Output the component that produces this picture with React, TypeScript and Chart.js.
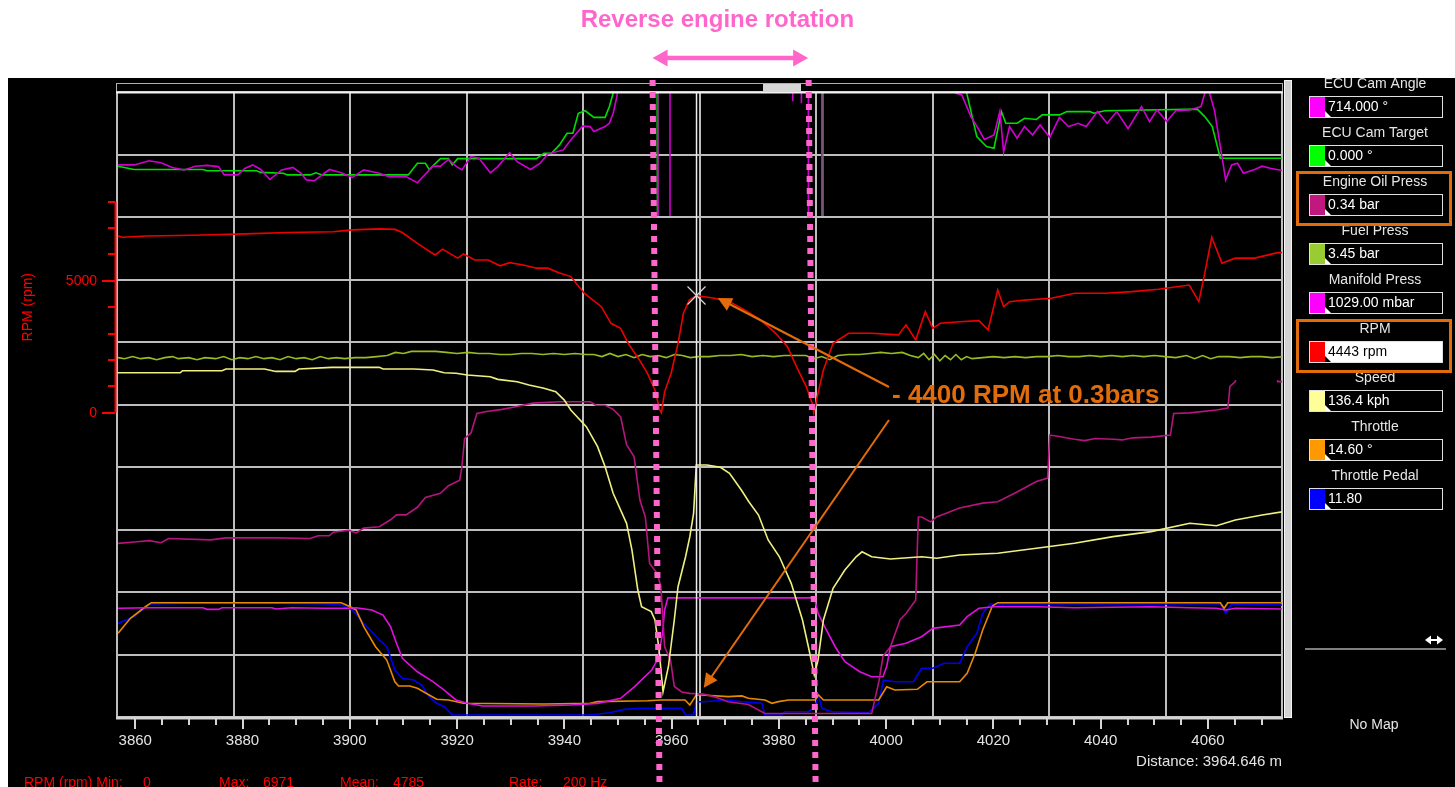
import React, { useEffect, useRef } from 'react';
import { Chart, registerables } from 'chart.js';

Chart.register(...registerables);

const FONT = "'Liberation Sans', Arial, sans-serif";

// ---------- axis ranges ----------
const X_MIN = 3856.6;
const X_MAX = 4073.8;
const xLabelValues = [3860, 3880, 3900, 3920, 3940, 3960, 3980, 4000, 4020, 4040, 4060];
const rpmTickValues = [0, 1000, 2000, 3000, 4000, 5000, 6000, 7000, 8000];
const rpmLabelValues = [0, 5000];

// ---------- cursor / annotations ----------
const cursorDistance = 3964.646;
const cursorRpm = 4443;
const reverseStart = 3957.1;
const reverseEnd = 3986.2;

// ---------- legend ----------
const legendNames = ['ECU Cam Angle', 'ECU Cam Target', 'Engine Oil Press', 'Fuel Press', 'Manifold Press', 'RPM', 'Speed', 'Throttle', 'Throttle Pedal'];
const legendValues = ['714.000 °', '0.000 °', '0.34 bar', '3.45 bar', '1029.00 mbar', '4443 rpm', '136.4 kph', '14.60 °', '11.80'];
const legendSwatches = ['#ff00ff', '#00ff00', '#c0187f', '#99cc33', '#ff00ff', '#ff0000', '#ffff99', '#ff9900', '#0000ff'];
const lineColors = ['#d000d0', '#00dd00', '#b5157d', '#99bb22', '#e010e0', '#ee0000', '#f0f080', '#e88a00', '#0000f0'];

// ---------- series: [distance m, value] ----------
const camAngle: [number, number][] = [
  [3856.8, 32.5], [3859.8, 32.5], [3862.6, 33.5], [3864.8, 33.0], [3866.9, 31.9], [3869.1, 31.3], [3871.2, 32.2], [3873.4, 32.4],
  [3875.5, 32.1], [3876.6, 30.1], [3879.1, 30.1], [3880.5, 31.7], [3881.9, 32.5], [3883.4, 31.4], [3885.1, 29.0], [3887.3, 31.3],
  [3889.4, 31.9], [3890.9, 30.5], [3891.9, 28.9], [3893.4, 28.7], [3896.2, 31.4], [3898.4, 30.6], [3900.5, 29.5], [3902.6, 31.3],
  [3905.5, 30.5], [3907.3, 29.7], [3910.5, 29.7], [3912.6, 28.2], [3915.5, 32.2], [3916.9, 32.2], [3918.4, 33.8], [3919.8, 32.2],
  [3920.9, 31.3], [3922.6, 34.5], [3924.1, 34.1], [3926.2, 30.6], [3927.6, 32.1], [3929.8, 35.4], [3931.2, 33.3], [3933.7, 31.4],
  [3935.5, 32.9], [3936.9, 35.1], [3939.8, 36.1], [3941.2, 38.5], [3943.4, 41.8], [3944.8, 41.7], [3945.5, 40.5], [3947.6, 41.7],
  [3948.4, 42.5], [3949.1, 44.9], [3949.8, 48.9], [3950.2, 53], [3951, 60], [3957.4, 60], [3957.5, 0], [3959.6, 0], [3959.7, 714],
  [3982.3, 714], [3982.6, 47.8], [3982.9, 714], [3983.9, 714], [3984.2, 47.3], [3984.5, 714], [3985.4, 714], [3985.5, 0],
  [3987.9, 0], [3988.0, 714], [4012.8, 714], [4013.0, 49.7], [4014.1, 49.3], [4015.8, 44.1], [4017.3, 40.9], [4018.3, 38.6],
  [4020.1, 39.7], [4021.2, 45.3], [4021.9, 35.6], [4023.0, 41.7], [4024.4, 38.9], [4025.8, 41.7], [4027.3, 39.7], [4028.7, 42.1],
  [4030.5, 39.1], [4032.3, 43.9], [4034.0, 41.7], [4035.8, 42.5], [4037.3, 41.7], [4039.4, 45.3], [4041.2, 42.5], [4043.0, 45.3],
  [4045.1, 41.2], [4047.6, 46.5], [4049.1, 42.9], [4050.5, 45.7], [4052.3, 42.9], [4054.0, 45.5], [4056.6, 45.7], [4058.7, 46.5],
  [4059.4, 49.7], [4060.1, 50.5], [4061.2, 45.7], [4062.3, 36.9], [4063.3, 28.9], [4064.4, 32.5], [4065.5, 32.9], [4066.6, 30.5],
  [4068.7, 31.4], [4070.1, 32.2], [4071.6, 31.7], [4074.0, 31.1],
];

const camTarget: [number, number][] = [
  [3856.8, 32.2], [3859.8, 31.4], [3872.6, 31.4], [3873.4, 31.1], [3882.6, 31.1], [3883.4, 30.7], [3887.6, 30.5], [3888.4, 30.1],
  [3892.6, 30.1], [3893.7, 30.6], [3894.8, 30.1], [3910.9, 30.1], [3912.6, 32.9], [3914.1, 32.9], [3914.8, 31.4], [3916.9, 34.0],
  [3918.4, 34.0], [3919.1, 32.5], [3920.1, 34.0], [3934.8, 34.0], [3936.2, 35.3], [3937.6, 35.3], [3939.1, 37.3], [3940.5, 40.1],
  [3941.6, 40.1], [3942.6, 44.9], [3943.9, 45.5], [3945.5, 43.9], [3947.6, 43.9], [3948.4, 46.5], [3949.1, 49.7], [3949.8, 53],
  [3951, 58], [3957.3, 58], [3957.4, 0], [3988.1, 0], [3988.2, 58], [4013.7, 58], [4015.1, 49.3], [4016.9, 39.3], [4018.7, 36.9],
  [4020.1, 36.5], [4020.8, 40.9], [4021.5, 45.3], [4022.3, 42.5], [4024.4, 42.5], [4025.8, 43.7], [4028.0, 43.4], [4029.1, 44.5],
  [4032.3, 44.5], [4033.7, 45.3], [4038.0, 45.3], [4038.7, 44.9], [4040.8, 45.5], [4058.0, 45.9], [4059.4, 44.1], [4060.8, 41.7],
  [4062.3, 34.1], [4073.7, 34.1], [4074.0, 33.7],
];

const oilPress: [number, number][] = [
  [3856.8, 2.50], [3859.8, 2.52], [3862.6, 2.54], [3864.8, 2.51], [3866.2, 2.57], [3874.1, 2.55], [3876.9, 2.58], [3886.2, 2.58],
  [3892.6, 2.57], [3894.1, 2.61], [3896.2, 2.61], [3896.9, 2.66], [3899.8, 2.69], [3901.2, 2.65], [3902.6, 2.72], [3905.5, 2.74],
  [3907.6, 2.84], [3908.7, 2.91], [3910.5, 2.91], [3912.6, 3.02], [3914.1, 3.16], [3916.9, 3.22], [3918.4, 3.33], [3920.5, 3.41],
  [3920.9, 3.60], [3921.4, 4.01], [3922.6, 4.09], [3923.7, 4.37], [3925.5, 4.40], [3928.4, 4.43], [3931.2, 4.47], [3934.1, 4.52],
  [3939.1, 4.54], [3944.8, 4.54], [3945.9, 4.49], [3947.6, 4.49], [3949.1, 4.43], [3950.5, 4.32], [3951.6, 3.92], [3953.0, 3.75],
  [3954.1, 3.12], [3955.1, 2.88], [3955.9, 2.21], [3957.3, 2.07], [3958.0, 1.88], [3958.7, 1.01], [3959.8, 0.82], [3960.5, 0.44],
  [3961.9, 0.36], [3963.4, 0.34], [3965.9, 0.33], [3968.0, 0.29], [3970.5, 0.22], [3974.3, 0.18], [3977.4, 0.05], [3986.7, 0.05],
  [3997.3, 0.05], [3998.7, 0.53], [3999.4, 0.87], [4000.8, 1.01], [4002.6, 1.40], [4003.7, 1.49], [4005.5, 1.68], [4006.0, 2.88],
  [4006.6, 2.88], [4008.3, 2.81], [4009.4, 2.88], [4013.7, 3.01], [4018.0, 3.08], [4020.8, 3.10], [4024.4, 3.24], [4028.0, 3.39],
  [4030.1, 3.44], [4030.5, 4.06], [4032.3, 4.04], [4033.5, 4.02], [4035.1, 4.00], [4037.0, 3.98], [4039.0, 4.01], [4042.3, 4.00],
  [4044.0, 3.99], [4046.0, 4.02], [4049.4, 4.03], [4053.0, 4.06], [4053.6, 4.37], [4056.6, 4.38], [4061.6, 4.42], [4063.7, 4.45],
  [4064.1, 4.76], [4065.1, 4.83], [4065.6, 5.2], [4072.6, 5.2], [4073.0, 4.83], [4074.0, 4.83],
];

const fuelPress: [number, number][] = [
  [3856.8, 3.45], [3858, 3.44], [3859.5, 3.46], [3861, 3.44], [3862.5, 3.45], [3864, 3.43], [3865.5, 3.45], [3867, 3.46],
  [3868, 3.44], [3870, 3.45], [3871.5, 3.43], [3873, 3.45], [3875, 3.44], [3876.5, 3.46], [3878, 3.43], [3879.5, 3.45],
  [3881, 3.44], [3882.5, 3.46], [3884, 3.44], [3885.5, 3.45], [3887, 3.43], [3888.5, 3.46], [3890, 3.44], [3891.5, 3.45],
  [3893, 3.43], [3894.5, 3.46], [3896, 3.44], [3897.5, 3.45], [3899, 3.44], [3901, 3.45], [3903, 3.45], [3905, 3.46],
  [3907, 3.47], [3908.5, 3.50], [3910, 3.49], [3911.5, 3.51], [3913, 3.51], [3916, 3.51], [3918, 3.50], [3920, 3.49],
  [3922, 3.50], [3924, 3.49], [3926, 3.49], [3928, 3.48], [3930, 3.48], [3932, 3.49], [3934, 3.49], [3936, 3.48],
  [3938, 3.49], [3940, 3.48], [3942, 3.49], [3944, 3.48], [3945.5, 3.48], [3947, 3.46], [3948.5, 3.49], [3950, 3.46],
  [3951.5, 3.48], [3953, 3.45], [3954.5, 3.48], [3956, 3.46], [3957.5, 3.47], [3959, 3.45], [3960.5, 3.48], [3962, 3.47],
  [3963.5, 3.45], [3965, 3.46], [3967, 3.46], [3969, 3.47], [3971, 3.47], [3973, 3.48], [3975, 3.46], [3977, 3.47],
  [3979, 3.46], [3981, 3.47], [3983, 3.47], [3985, 3.47], [3986.5, 3.44], [3988, 3.46], [3989.5, 3.43], [3991, 3.47],
  [3993, 3.48], [3995, 3.48], [3997, 3.49], [3999, 3.50], [4001, 3.49], [4003, 3.50], [4004.5, 3.47], [4006, 3.45],
  [4007, 3.49], [4008, 3.43], [4009, 3.48], [4010, 3.42], [4011, 3.47], [4012, 3.43], [4013, 3.48], [4014, 3.43],
  [4015, 3.46], [4016, 3.44], [4018, 3.45], [4020, 3.46], [4022, 3.45], [4024, 3.46], [4026, 3.45], [4028, 3.46],
  [4030, 3.46], [4032, 3.47], [4034, 3.46], [4036, 3.46], [4038, 3.47], [4040, 3.46], [4042, 3.47], [4044, 3.46],
  [4046, 3.47], [4048, 3.46], [4050, 3.47], [4052, 3.46], [4054, 3.45], [4056, 3.47], [4057.5, 3.44], [4059, 3.47],
  [4060.5, 3.44], [4062, 3.46], [4064, 3.46], [4066, 3.45], [4068, 3.46], [4070, 3.46], [4072, 3.45], [4074, 3.46],
];

const manifoldPress: [number, number][] = [
  [3856.8, 939], [3862.6, 944], [3872.6, 944], [3873.4, 930], [3875.5, 930], [3876.2, 944], [3885.5, 944], [3886.2, 933],
  [3889.1, 944], [3895.5, 939], [3899.8, 939], [3901.2, 944], [3904.1, 925], [3906.2, 881], [3907.6, 780], [3908.7, 637],
  [3909.8, 507], [3912.6, 391], [3915.5, 305], [3917.6, 233], [3919.8, 147], [3921.9, 118], [3924.8, 95], [3934.1, 95],
  [3941.2, 104], [3946.2, 118], [3950.5, 162], [3953.1, 262], [3956.3, 406], [3957.5, 507], [3958.3, 723], [3958.7, 925],
  [3959.3, 1029], [3986.6, 1029], [3987.3, 896], [3988.7, 766], [3990.5, 607], [3992.3, 478], [3995.1, 391], [3997.3, 348],
  [3999.4, 348], [4000.1, 435], [4000.8, 607], [4003.7, 637], [4006.6, 694], [4008.7, 766], [4013.7, 795], [4015.1, 867],
  [4017.3, 939], [4020.1, 953], [4028.0, 953], [4035.1, 944], [4049.4, 953], [4056.6, 944], [4061.6, 939], [4063.3, 925],
  [4065.1, 939], [4074.0, 933],
];

const rpm: [number, number][] = [
  [3856.8, 6700], [3857.6, 6650], [3862.0, 6700], [3868.0, 6720], [3872.7, 6740], [3880.5, 6780], [3888.4, 6830], [3896.9, 6860],
  [3900.5, 6930], [3905.5, 6971], [3908.4, 6950], [3909.8, 6830], [3912.6, 6420], [3915.9, 5980], [3917.3, 6200], [3920.1, 5860],
  [3921.2, 6020], [3923.3, 5790], [3925.8, 5790], [3928.0, 5570], [3929.8, 5690], [3932.6, 5590], [3934.8, 5480], [3936.9, 5480],
  [3939.0, 5310], [3941.2, 5160], [3943.7, 4530], [3946.9, 4020], [3948.7, 3390], [3950.5, 3200], [3951.9, 2630], [3954.0, 2000],
  [3955.5, 1490], [3956.9, 860], [3957.8, 100], [3958.1, 0], [3958.7, 800], [3959.9, 1490], [3961.2, 2630], [3962.2, 3770],
  [3963.3, 4270], [3964.6, 4443], [3968.0, 4340], [3970.8, 4210], [3973.7, 3890], [3976.6, 3520], [3979.4, 3010], [3981.6, 2500],
  [3983.3, 1740], [3985.1, 990], [3986.2, 360], [3986.5, 0], [3987.3, 740], [3988.3, 1620], [3990.1, 2630], [3993.0, 3010],
  [3997.3, 3010], [4000.0, 2980], [4002.3, 2950], [4003.7, 3330], [4005.5, 2760], [4007.3, 3830], [4008.7, 3200], [4010.1, 3390],
  [4013.7, 3450], [4017.3, 3490], [4019.0, 3140], [4020.8, 4650], [4021.9, 4020], [4023.0, 4210], [4025.8, 4270], [4030.8, 4340],
  [4035.1, 4530], [4040.8, 4530], [4045.8, 4590], [4050.8, 4680], [4056.5, 4840], [4058.3, 4210], [4059.4, 5290], [4060.7, 6650],
  [4062.6, 5670], [4065.1, 5860], [4068.7, 5860], [4073.0, 6070], [4074.0, 6070],
];

const speed: [number, number][] = [
  [3856.6, 186.3], [3868.4, 186.3], [3868.8, 187.4], [3876.2, 187.4], [3876.9, 188.3], [3884.1, 188.3], [3886.2, 187.0],
  [3889.8, 187.0], [3890.5, 188.3], [3896.6, 189.2], [3905.5, 189.2], [3906.2, 188.3], [3911.9, 188.3], [3915.5, 187.8],
  [3917.6, 186.3], [3919.8, 186.0], [3921.9, 185.1], [3926.2, 184.1], [3927.6, 182.7], [3931.2, 181.4], [3933.4, 179.7],
  [3936.2, 177.9], [3938.4, 176.0], [3940.0, 171.5], [3941.2, 166.1], [3944.1, 157.1], [3946.2, 146.3], [3947.6, 135.4],
  [3949.1, 121.1], [3951.6, 104.8], [3952.6, 90.4], [3953.7, 68.7], [3954.4, 59.7], [3956.2, 57.0], [3956.9, 52.5],
  [3957.6, 38.0], [3958.4, 13.7], [3959.4, 27.2], [3960.5, 52.5], [3961.2, 70.5], [3962.6, 86.7], [3963.4, 97.6],
  [3964.1, 110.2], [3964.6, 136.4], [3965.9, 136.4], [3966.6, 136.4], [3969.1, 135.1], [3970.8, 131.9], [3973.0, 122.8],
  [3974.4, 116.5], [3976.2, 109.3], [3978.0, 95.8], [3980.1, 86.7], [3982.3, 72.3], [3984.4, 52.5], [3985.5, 38.0],
  [3986.6, 22.7], [3987.3, 30.8], [3988.3, 52.5], [3990.1, 69.6], [3992.3, 79.5], [3994.4, 86.7], [3995.5, 89.4],
  [3997.3, 86.7], [4000.8, 85.5], [4006.6, 86.7], [4009.4, 85.9], [4013.7, 87.7], [4020.8, 88.6], [4028.0, 91.3],
  [4035.1, 94.0], [4042.3, 97.6], [4049.4, 100.3], [4056.6, 104.8], [4061.6, 103.5], [4065.1, 106.6], [4070.1, 109.3],
  [4074.0, 111.1],
];

const throttle: [number, number][] = [
  [3856.8, 55.6], [3859.1, 65.5], [3861.9, 73.2], [3863.0, 75.9], [3898.4, 75.9], [3900.1, 73.2], [3901.2, 71.0], [3902.6, 60.0],
  [3904.8, 46.7], [3906.9, 37.8], [3908.4, 23.4], [3909.1, 20.6], [3911.2, 20.6], [3912.6, 19.1], [3914.8, 14.6], [3916.2, 11.8],
  [3918.4, 11.3], [3921.2, 9.1], [3936.2, 8.6], [3944.8, 9.1], [3946.2, 10.2], [3955.5, 10.8], [3958.1, 11.3], [3962.5, 11.3],
  [3963.4, 8.0], [3964.6, 14.6], [3965.6, 14.6], [3970.6, 13.5], [3973.1, 14.0], [3974.3, 12.5], [3977.4, 11.3], [3978.7, 9.1],
  [3979.9, 10.2], [3981.8, 11.3], [3986.7, 11.3], [3987.4, 14.6], [3988.3, 11.3], [3998.6, 11.3], [4000.1, 20.1], [4001.6, 17.9],
  [4005.8, 18.4], [4007.6, 23.4], [4013.7, 23.4], [4015.1, 29.0], [4016.6, 42.3], [4018.0, 57.8], [4019.8, 73.7], [4020.8, 75.9],
  [4062.3, 75.9], [4063.0, 72.2], [4063.7, 75.9], [4074.0, 75.9],
];

const throttlePedal: [number, number][] = [
  [3856.8, 72.3], [3859.8, 77.4], [3862.6, 87.1], [3876.9, 88.1], [3895.5, 87.1], [3898.4, 86.4], [3900.5, 82.5], [3902.6, 72.3],
  [3905.5, 59.4], [3906.9, 54.2], [3908.4, 36.2], [3909.8, 29.8], [3911.9, 28.5], [3913.4, 24.7], [3914.8, 15.7], [3916.2, 10.6],
  [3917.6, 7.9], [3919.1, 1.5], [3944.8, 1.5], [3948.4, 3.3], [3951.2, 5.9], [3954.1, 6.7], [3961.9, 6.7], [3962.6, 1.5],
  [3964.1, 1.5], [3964.6, 11.8], [3965.9, 11.8], [3970.6, 13.1], [3973.1, 11.8], [3976.8, 10.6], [3977.4, 1.5], [3980.5, 1.5],
  [3981.1, 4.1], [3985.5, 4.1], [3986.7, 7.9], [3987.4, 17.0], [3988.0, 6.7], [3989.9, 4.1], [3996.7, 3.3], [3998.6, 10.6],
  [3999.5, 28.5], [4001.6, 27.2], [4005.1, 27.2], [4006.6, 37.6], [4008.7, 37.6], [4010.8, 41.4], [4013.7, 41.4], [4015.1, 54.2],
  [4016.9, 64.5], [4018.0, 80.0], [4019.4, 87.1], [4062.3, 87.1], [4063.3, 80.0], [4064.4, 87.1], [4074.0, 86.4],
];

// hidden value scales (min / max) for each channel
const RPM_MIN = -11537, RPM_MAX = 12159;
const CAM_MIN = -100, CAM_MAX = 50;
const OIL_MIN = 0, OIL_MAX = 9;
const FUEL_MIN = 0, FUEL_MAX = 6;
const MAP_MIN = 0, MAP_MAX = 5400;
const SPEED_MIN = 0, SPEED_MAX = 338.2;
const THR_MIN = 0, THR_MAX = 415;
const PED_MIN = 0, PED_MAX = 482;

const PINK = '#ff66cc';
const ORANGE = '#e36c0a';

function arrowHead(ctx: CanvasRenderingContext2D, tx: number, ty: number, fx: number, fy: number, len: number, w: number, color: string) {
  const a = Math.atan2(ty - fy, tx - fx);
  const bx = tx - len * Math.cos(a), by = ty - len * Math.sin(a);
  const px = -Math.sin(a) * w / 2, py = Math.cos(a) * w / 2;
  ctx.beginPath();
  ctx.moveTo(tx, ty);
  ctx.lineTo(bx + px, by + py);
  ctx.lineTo(bx - px, by - py);
  ctx.closePath();
  ctx.fillStyle = color;
  ctx.fill();
}

const decor = {
  id: 'decor',
  beforeDraw(chart: any) {
    const ctx: CanvasRenderingContext2D = chart.ctx;
    const { width, height } = chart;
    ctx.save();
    ctx.fillStyle = '#ffffff';
    ctx.fillRect(0, 0, width, height);
    ctx.fillStyle = '#000000';
    ctx.fillRect(8, 78, width - 8, height - 78);
    const ca = chart.chartArea;
    // top scroll bar
    ctx.strokeStyle = '#b0b0b0';
    ctx.lineWidth = 1;
    ctx.strokeRect(ca.left - 0.5, 83.5, ca.right - ca.left + 1, ca.top - 83);
    ctx.fillStyle = '#d6d6d6';
    ctx.fillRect(763, 84, 38, 8);
    // right scroll bar
    ctx.fillStyle = '#d2d2d2';
    ctx.fillRect(ca.right + 2, 80, 7, ca.bottom - 79);
    ctx.strokeStyle = '#f4f4f4';
    ctx.strokeRect(ca.right + 2.5, 80.5, 7, ca.bottom - 80);
    ctx.restore();
  },
  afterDatasetsDraw(chart: any) {
    const ctx: CanvasRenderingContext2D = chart.ctx;
    const ca = chart.chartArea;
    const xs = chart.scales.x;
    const yr = chart.scales.yRpm;
    ctx.save();
    // top frame line
    ctx.strokeStyle = '#f2f2f2';
    ctx.lineWidth = 2;
    ctx.beginPath();
    ctx.moveTo(ca.left - 1, ca.top + 0.5);
    ctx.lineTo(ca.right + 1, ca.top + 0.5);
    ctx.stroke();
    // bottom axis line
    ctx.strokeStyle = '#d4d4d4';
    ctx.lineWidth = 3;
    ctx.beginPath();
    ctx.moveTo(ca.left - 1, ca.bottom + 1);
    ctx.lineTo(ca.right + 1, ca.bottom + 1);
    ctx.stroke();
    // x ticks
    ctx.lineWidth = 2;
    ctx.strokeStyle = '#d4d4d4';
    xs.ticks.forEach((t: any) => {
      const px = Math.round(xs.getPixelForValue(t.value));
      const major = xLabelValues.includes(t.value);
      ctx.beginPath();
      ctx.moveTo(px, ca.bottom + 2);
      ctx.lineTo(px, ca.bottom + (major ? 12 : 8));
      ctx.stroke();
    });
    // RPM axis
    ctx.strokeStyle = '#ff0000';
    ctx.lineWidth = 2;
    const y0 = yr.getPixelForValue(rpmTickValues[0]);
    const y1 = yr.getPixelForValue(rpmTickValues[rpmTickValues.length - 1]);
    ctx.beginPath();
    ctx.moveTo(ca.left - 1.5, y0);
    ctx.lineTo(ca.left - 1.5, y1);
    ctx.stroke();
    rpmTickValues.forEach((v) => {
      const py = Math.round(yr.getPixelForValue(v));
      const len = rpmLabelValues.includes(v) ? 13 : 7;
      ctx.beginPath();
      ctx.moveTo(ca.left - 2, py);
      ctx.lineTo(ca.left - 2 - len, py);
      ctx.stroke();
    });
    ctx.fillStyle = '#ff0000';
    ctx.font = `14px ${FONT}`;
    ctx.textAlign = 'center';
    ctx.textBaseline = 'middle';
    ctx.translate(28, (y0 + y1) / 2);
    ctx.rotate(-Math.PI / 2);
    ctx.fillText('RPM (rpm)', 0, 0);
    ctx.setTransform(1, 0, 0, 1, 0, 0);
    // cursor
    const cx = xs.getPixelForValue(cursorDistance);
    ctx.strokeStyle = '#ececec';
    ctx.lineWidth = 1.5;
    ctx.beginPath();
    ctx.moveTo(cx, ca.top);
    ctx.lineTo(cx, ca.bottom);
    ctx.stroke();
    const cy = yr.getPixelForValue(cursorRpm);
    ctx.strokeStyle = '#d8d8d8';
    ctx.lineWidth = 1.2;
    ctx.beginPath();
    ctx.moveTo(cx - 9, cy - 9);
    ctx.lineTo(cx + 9, cy + 9);
    ctx.moveTo(cx + 9, cy - 9);
    ctx.lineTo(cx - 9, cy + 9);
    ctx.stroke();
    ctx.restore();
  },
  afterDraw(chart: any) {
    const ctx: CanvasRenderingContext2D = chart.ctx;
    const ca = chart.chartArea;
    const xs = chart.scales.x;
    ctx.save();
    // texts in the black panel
    ctx.fillStyle = '#e4e4e4';
    ctx.font = `15px ${FONT}`;
    ctx.textAlign = 'right';
    ctx.textBaseline = 'middle';
    ctx.fillText(`Distance: ${cursorDistance.toFixed(3)} m`, ca.right, 762);
    ctx.fillStyle = '#ff0000';
    ctx.font = `14px ${FONT}`;
    ctx.textAlign = 'left';
    const stats: [string, number][] = [['RPM (rpm) Min:', 24], ['0', 143], ['Max:', 219], ['6971', 263], ['Mean:', 340], ['4785', 393], ['Rate:', 509], ['200 Hz', 563]];
    stats.forEach(([t, x]) => ctx.fillText(t, x, 783));

    // legend panel
    const lx = 1309, lw = 134, bh = 22;
    legendNames.forEach((name, i) => {
      const ty = 84 + i * 49;
      const by = 96 + i * 49;
      ctx.fillStyle = '#e6e6e6';
      ctx.font = `14px ${FONT}`;
      ctx.textAlign = 'center';
      ctx.textBaseline = 'middle';
      ctx.fillText(name, lx + lw / 2 - 1, ty);
      const hl = name === 'RPM';
      ctx.fillStyle = hl ? '#ffffff' : '#000000';
      ctx.fillRect(lx, by, lw, bh);
      ctx.strokeStyle = '#e0e0e0';
      ctx.lineWidth = 1;
      ctx.strokeRect(lx + 0.5, by + 0.5, lw - 1, bh - 1);
      ctx.fillStyle = legendSwatches[i];
      ctx.fillRect(lx + 1, by + 1, 15, bh - 2);
      ctx.fillStyle = hl ? '#000000' : '#ffffff';
      ctx.beginPath();
      ctx.moveTo(lx + 16, by + bh - 7);
      ctx.lineTo(lx + 16, by + bh - 1);
      ctx.lineTo(lx + 22, by + bh - 1);
      ctx.closePath();
      ctx.fill();
      ctx.fillStyle = hl ? '#000000' : '#ffffff';
      ctx.textAlign = 'left';
      ctx.fillText(legendValues[i], lx + 19, by + bh / 2 + 0.5);
    });
    ctx.strokeStyle = ORANGE;
    ctx.lineWidth = 3;
    ctx.strokeRect(1297.5, 172.5, 153, 52);
    ctx.strokeRect(1297.5, 320.5, 153, 51);
    // separator + double arrow glyph
    ctx.strokeStyle = '#a8a8a8';
    ctx.lineWidth = 1.5;
    ctx.beginPath();
    ctx.moveTo(1305, 649);
    ctx.lineTo(1446, 649);
    ctx.stroke();
    ctx.strokeStyle = '#ffffff';
    ctx.lineWidth = 2;
    ctx.beginPath();
    ctx.moveTo(1428, 640);
    ctx.lineTo(1440, 640);
    ctx.stroke();
    arrowHead(ctx, 1425, 640, 1440, 640, 6, 9, '#ffffff');
    arrowHead(ctx, 1443, 640, 1428, 640, 6, 9, '#ffffff');
    ctx.fillStyle = '#e6e6e6';
    ctx.font = `14px ${FONT}`;
    ctx.textAlign = 'center';
    ctx.fillText('No Map', 1374, 725);

    // pink dotted reverse-rotation markers
    const p1 = xs.getPixelForValue(reverseStart);
    const p2 = xs.getPixelForValue(reverseEnd);
    ctx.strokeStyle = PINK;
    ctx.lineWidth = 6;
    ctx.setLineDash([6, 6]);
    ctx.lineCap = 'butt';
    [p1, p2].forEach((p) => {
      ctx.beginPath();
      ctx.moveTo(p - 3.5, 80);
      ctx.lineTo(p + 3.5, 790);
      ctx.stroke();
    });
    ctx.setLineDash([]);
    // top double arrow
    const ax1 = p1 - 3.5, ax2 = p2 - 4;
    ctx.lineWidth = 4.5;
    ctx.beginPath();
    ctx.moveTo(ax1 + 10, 58);
    ctx.lineTo(ax2 - 10, 58);
    ctx.stroke();
    arrowHead(ctx, ax1, 58, ax2, 58, 15, 17, PINK);
    arrowHead(ctx, ax2, 58, ax1, 58, 15, 17, PINK);
    ctx.fillStyle = PINK;
    ctx.font = `bold 24px ${FONT}`;
    ctx.textAlign = 'center';
    ctx.textBaseline = 'middle';
    ctx.fillText('Reverse engine rotation', (ax1 + ax2) / 2 - 13, 20);

    // orange annotation
    const tx = 892, ty = 396;
    ctx.fillStyle = ORANGE;
    ctx.font = `bold 26px ${FONT}`;
    ctx.textAlign = 'left';
    ctx.fillText('- 4400 RPM at 0.3bars', tx, ty, 274);
    const tip1x = xs.getPixelForValue(3968.6), tip1y = chart.scales.yRpm.getPixelForValue(4350);
    const tip2x = xs.getPixelForValue(3966.0), tip2y = chart.scales.yOil.getPixelForValue(0.42);
    const tails: [number, number, number, number][] = [
      [tx - 3, ty - 9, tip1x, tip1y],
      [tx - 3, ty + 24, tip2x, tip2y],
    ];
    ctx.strokeStyle = ORANGE;
    ctx.lineWidth = 2;
    tails.forEach(([fx, fy, tX, tY]) => {
      const a = Math.atan2(tY - fy, tX - fx);
      ctx.beginPath();
      ctx.moveTo(fx, fy);
      ctx.lineTo(tX - 12 * Math.cos(a), tY - 12 * Math.sin(a));
      ctx.stroke();
      arrowHead(ctx, tX, tY, fx, fy, 14, 14, ORANGE);
    });
    ctx.restore();
  },
};

function toXY(arr: [number, number][]) {
  return arr.map(([x, y]) => ({ x, y }));
}

export default function App() {
  const ref = useRef<HTMLCanvasElement>(null);
  useEffect(() => {
    const canvas = ref.current;
    if (!canvas) return;
    const xTicks: number[] = [];
    for (let v = 3860; v <= 4070; v += 5) xTicks.push(v);
    const gridOpts = { color: '#bdbdbd', lineWidth: 2, drawTicks: false };
    const ds = (label: string, data: [number, number][], axis: string, color: string, clip?: any) => ({
      label,
      data: toXY(data),
      xAxisID: 'x',
      yAxisID: axis,
      borderColor: color,
      backgroundColor: color,
      borderWidth: 1.6,
      pointRadius: 0,
      tension: 0,
      fill: false,
      clip: clip ?? { left: 0, top: 0, right: 0, bottom: 0 },
    });
    const chart = new Chart(canvas, {
      type: 'line',
      data: {
        datasets: [
          ds(legendNames[5], rpm, 'yRpm', lineColors[5]),
          ds(legendNames[0], camAngle, 'yCam', lineColors[0], { left: 0, top: 0, right: 0, bottom: -501 }),
          ds(legendNames[1], camTarget, 'yCam', lineColors[1], { left: 0, top: 0, right: 0, bottom: -501 }),
          ds(legendNames[3], fuelPress, 'yFuel', lineColors[3]),
          ds(legendNames[6], speed, 'ySpeed', lineColors[6]),
          ds(legendNames[2], oilPress, 'yOil', lineColors[2], { left: 0, top: -288, right: 0, bottom: 0 }),
          ds(legendNames[4], manifoldPress, 'yMap', lineColors[4]),
          ds(legendNames[7], throttle, 'yThr', lineColors[7]),
          ds(legendNames[8], throttlePedal, 'yPed', lineColors[8]),
        ],
      },
      options: {
        responsive: false,
        maintainAspectRatio: false,
        animation: false,
        devicePixelRatio: 1,
        events: [],
        layout: { padding: 0 },
        plugins: { legend: { display: false }, tooltip: { enabled: false }, title: { display: false } },
        scales: {
          x: {
            type: 'linear',
            position: 'bottom',
            min: X_MIN,
            max: X_MAX,
            afterBuildTicks: (s: any) => { s.ticks = xTicks.map((v) => ({ value: v })); },
            afterFit: (s: any) => { s.height = 70; },
            grid: { display: false, drawTicks: false },
            border: { display: false },
            ticks: {
              autoSkip: false,
              maxRotation: 0,
              minRotation: 0,
              color: '#e4e4e4',
              padding: 15,
              font: { family: FONT, size: 15 },
              callback: (v: any) => (xLabelValues.includes(Number(v)) ? String(v) : ''),
            },
          },
          gx: {
            type: 'linear',
            position: 'top',
            min: 0,
            max: 10,
            ticks: { display: false, stepSize: 1 },
            grid: gridOpts,
            border: { display: false },
            afterFit: (s: any) => { s.height = 92; },
          },
          gy: {
            type: 'linear',
            position: 'right',
            min: 0,
            max: 10,
            ticks: { display: false, stepSize: 1 },
            grid: gridOpts,
            border: { display: false },
            afterFit: (s: any) => { s.width = 173; },
          },
          yRpm: {
            type: 'linear',
            position: 'left',
            min: RPM_MIN,
            max: RPM_MAX,
            afterBuildTicks: (s: any) => { s.ticks = rpmTickValues.map((v) => ({ value: v })); },
            afterFit: (s: any) => { s.width = 117; },
            grid: { display: false, drawTicks: false },
            border: { display: false },
            ticks: {
              color: '#ff0000',
              padding: 20,
              font: { family: FONT, size: 14 },
              callback: (v: any) => (rpmLabelValues.includes(Number(v)) ? String(v) : ''),
            },
          },
          yCam: { type: 'linear', display: false, min: CAM_MIN, max: CAM_MAX },
          yOil: { type: 'linear', display: false, min: OIL_MIN, max: OIL_MAX },
          yFuel: { type: 'linear', display: false, min: FUEL_MIN, max: FUEL_MAX },
          yMap: { type: 'linear', display: false, min: MAP_MIN, max: MAP_MAX },
          ySpeed: { type: 'linear', display: false, min: SPEED_MIN, max: SPEED_MAX },
          yThr: { type: 'linear', display: false, min: THR_MIN, max: THR_MAX },
          yPed: { type: 'linear', display: false, min: PED_MIN, max: PED_MAX },
        },
      } as any,
      plugins: [decor],
    });
    return () => chart.destroy();
  }, []);
  return (
    <div style={{ position: 'absolute', left: 0, top: 0, width: 1455, height: 787, overflow: 'hidden' }}>
      <canvas ref={ref} width={1455} height={787} style={{ display: 'block', width: 1455, height: 787 }} />
    </div>
  );
}
